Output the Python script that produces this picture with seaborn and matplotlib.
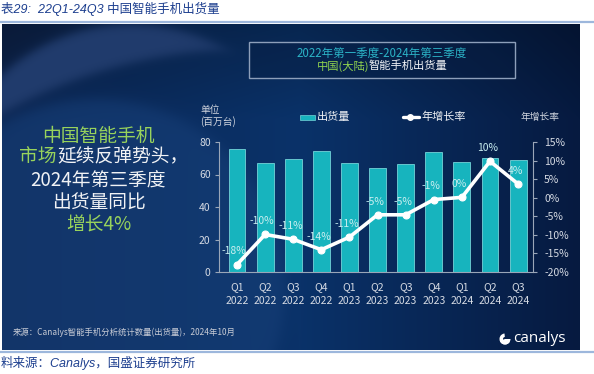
import numpy as np
import matplotlib
matplotlib.use("Agg")
import matplotlib.pyplot as plt
import seaborn as sns
import pandas as pd
from matplotlib.patches import Rectangle, Wedge
from matplotlib.lines import Line2D

# ---------------- data ----------------
quarters = ["Q1\n2022", "Q2\n2022", "Q3\n2022", "Q4\n2022", "Q1\n2023", "Q2\n2023",
            "Q3\n2023", "Q4\n2023", "Q1\n2024", "Q2\n2024", "Q3\n2024"]
shipments = [75.5, 67.3, 69.6, 74.7, 67.3, 64.3, 66.7, 73.7, 68.0, 70.4, 69.0]
growth = [-18.0, -9.9, -11.2, -14.0, -10.6, -4.6, -4.6, -0.5, 0.1, 9.8, 3.7]
growth_labels = ["-18%", "-10%", "-11%", "-14%", "-11%", "-5%", "-5%", "-1%", "0%", "10%", "4%"]
left_ticks = [0, 20, 40, 60, 80]
right_ticks = [-20, -15, -10, -5, 0, 5, 10, 15]

sns.set_theme(style="white")
plt.rcParams["font.family"] = ["Noto Sans CJK SC", "DejaVu Sans"]

W, H = 594, 374
fig = plt.figure(figsize=(W / 100, H / 100), dpi=100)
fig.patch.set_facecolor("white")


def fx(x):
    return x / W


def fy(y):
    return 1 - y / H


# ---------------- slide background ----------------
sx0, sy0, sx1, sy1 = 2, 24, 580, 350
xs = np.arange(sx0, sx1) + 0.5
ys = np.arange(sy0, sy1) + 0.5
X, Y = np.meshgrid(xs, ys)


def hexrgb(h):
    h = h.lstrip("#")
    return np.array([int(h[i:i + 2], 16) / 255 for i in (0, 2, 4)])


def smooth(d, w=3.0):
    return 1 / (1 + np.exp(-d / w))


c_mid = hexrgb("#0a3269")
c_right = hexrgb("#061a40")
c_left = hexrgb("#0b2653")
t = np.clip((X - 300) / 280, 0, 1)[..., None]
tl = np.clip((300 - X) / 300, 0, 1)[..., None]
img = c_mid * (1 - t) + c_right * t
img = img * (1 - tl) + c_left * tl
vt = np.clip((120 - Y) / 100, 0, 1)[..., None]
img = img * (1 - 0.25 * vt)

# lower-left lighter disk
dC = 190 - np.hypot(X - 95, Y - 290)
mC = smooth(dC, 4)[..., None]
img = img * (1 - 0.6 * mC) + hexrgb("#173f78") * 0.6 * mC

# lighter crescent band
dA = 190 - np.hypot(X - 130, Y - 215)
dB = np.hypot(X - 250, Y - 560) - 510
mBand = (smooth(dA, 3) * smooth(dB, 3))[..., None]
img = img * (1 - mBand) + hexrgb("#213c6d") * mBand
mCorner = (smooth(-dA, 3) * np.clip((200 - X) / 200, 0, 1) * np.clip((160 - Y) / 160, 0, 1))[..., None]
img = img * (1 - 0.6 * mCorner) + hexrgb("#0c1933") * 0.6 * mCorner

bg = fig.add_axes([fx(sx0), fy(sy1), (sx1 - sx0) / W, (sy1 - sy0) / H])
bg.imshow(np.clip(img, 0, 1), aspect="auto", extent=(sx0, sx1, sy1, sy0), interpolation="bilinear")
bg.axis("off")

# ---------------- main chart ----------------
ax = fig.add_axes([fx(219), fy(272), (533 - 219) / W, (272 - 142) / H])
ax.patch.set_alpha(0)
df = pd.DataFrame({"quarter": quarters, "shipments": shipments, "growth": growth})
sns.barplot(data=df, x="quarter", y="shipments", ax=ax, color="#17b4be", saturation=1,
            width=0.6, edgecolor="#74d3d8", linewidth=0.6)
ax.set_ylim(0, 80)
ax.set_yticks(left_ticks)
ax.set_xlabel("")
ax.set_ylabel("")

ax2 = ax.twinx()
ax2.patch.set_alpha(0)
sns.lineplot(x=np.arange(len(growth)), y=growth, ax=ax2, color="white", lw=2.6,
             marker="o", markersize=5, markeredgecolor="white", markeredgewidth=0.8)
ax2.set_ylim(-20, 15)
ax2.set_yticks(right_ticks)
ax2.set_yticklabels([f"{v}%" for v in right_ticks])
ax2.set_ylabel("")
for i, (g, lbl) in enumerate(zip(growth, growth_labels)):
    ax2.annotate(lbl, (i, g), xytext=(-2, 9.5), textcoords="offset points",
                 ha="center", va="center", fontsize=7.5, color="#c9eef0")

ax.set_xlim(-0.64, 10.53)
ax2.set_xlim(-0.64, 10.53)

tick_col = "#d5dae3"
spine_col = "#9aa6b8"
ax.tick_params(axis="y", colors=tick_col, labelsize=7.5, length=3, width=0.8,
               direction="out", left=True, pad=3, color=spine_col)
ax.tick_params(axis="x", colors=tick_col, labelsize=7.5, length=0, pad=7)
ax2.tick_params(axis="y", colors=tick_col, labelsize=7.5, length=3, width=0.8,
                direction="out", right=True, pad=5, color=spine_col)
for lab in ax.get_xticklabels():
    lab.set_linespacing(1.55)

for a in (ax, ax2):
    for s in a.spines.values():
        s.set_visible(False)
ax.spines["left"].set_visible(True)
ax.spines["bottom"].set_visible(True)
ax2.spines["right"].set_visible(True)
for s in (ax.spines["left"], ax.spines["bottom"], ax2.spines["right"]):
    s.set_color(spine_col)
    s.set_linewidth(0.8)

# ---------------- slide texts ----------------
fig.add_artist(Rectangle((fx(249), fy(78)), (515 - 249) / W, (78 - 42) / H,
                         transform=fig.transFigure, facecolor="#061c40", alpha=0.35,
                         edgecolor="none"))
fig.add_artist(Rectangle((fx(249), fy(78)), (515 - 249) / W, (78 - 42) / H,
                         transform=fig.transFigure, fill=False, edgecolor="#8d9fba", lw=1))
fig.text(fx(382), fy(53), "2022年第一季度-2024年第三季度", ha="center", va="center",
         fontsize=8.3, color="#2bb2c6")
fig.text(fx(369), fy(66), "中国(大陆)", ha="right", va="center", fontsize=8.1, color="#8fd14f")
fig.text(fx(369), fy(66), "智能手机出货量", ha="left", va="center", fontsize=8.1, color="#f2f4f7")

fig.text(fx(200), fy(110), "单位", ha="left", va="center", fontsize=7, color="#d0d5de")
fig.text(fx(200), fy(122), "(百万台)", ha="left", va="center", fontsize=7, color="#d0d5de")
fig.add_artist(Rectangle((fx(300), fy(120)), 15 / W, 5 / H, transform=fig.transFigure,
                         facecolor="#17b4be", edgecolor="#74d3d8", lw=0.5))
fig.text(fx(317), fy(117), "出货量", ha="left", va="center", fontsize=8, color="#f0f2f5")
fig.add_artist(Line2D([fx(403), fx(419)], [fy(117), fy(117)], transform=fig.transFigure,
                      color="white", lw=2.4))
fig.add_artist(Line2D([fx(410)], [fy(117)], transform=fig.transFigure, color="white",
                      marker="o", markersize=4))
fig.text(fx(421), fy(117), "年增长率", ha="left", va="center", fontsize=8, color="#f0f2f5")
fig.text(fx(540), fy(117), "年增长率", ha="center", va="center", fontsize=7, color="#d0d5de")

green = "#98d35c"
white = "#f0f2f5"
hs = 13.5
fig.text(fx(98), fy(136), "中国智能手机", ha="center", va="center", fontsize=hs, color=green)
fig.text(fx(57), fy(157), "市场", ha="right", va="center", fontsize=hs, color=green)
fig.text(fx(57), fy(157), "延续反弹势头，", ha="left", va="center", fontsize=hs, color=white)
fig.text(fx(98), fy(181), "2024年第三季度", ha="center", va="center", fontsize=hs, color=white)
fig.text(fx(99), fy(203), "出货量同比", ha="center", va="center", fontsize=hs, color=white)
fig.text(fx(99), fy(225), "增长4%", ha="center", va="center", fontsize=hs, color=green)

fig.text(fx(13), fy(332), "来源：Canalys智能手机分析统计数量(出货量)，2024年10月", ha="left",
         va="center", fontsize=6, color="#c8ccd6")
fig.text(fx(513), fy(338), "canalys", ha="left", va="center", fontsize=11,
         family=["Open Sans", "DejaVu Sans"], color="white")
fig.add_artist(Wedge((505 / 100, (H - 339) / 100), 0.055, 95, 330, width=0.035,
                     transform=fig.dpi_scale_trans, facecolor="white", edgecolor="none"))
fig.add_artist(Wedge((505 / 100, (H - 339) / 100), 0.055, 200, 360,
                     transform=fig.dpi_scale_trans, facecolor="white", edgecolor="none"))

# ---------------- report frame ----------------
fig.add_artist(Line2D([0, 1], [fy(21.5), fy(21.5)], transform=fig.transFigure,
                      color="#9db7dc", lw=1.6))
fig.add_artist(Line2D([0, 1], [fy(352), fy(352)], transform=fig.transFigure,
                      color="#9db7dc", lw=1.6))
fig.text(fx(1), fy(9), "表29:  22Q1-24Q3 中国智能手机出货量", ha="left", va="center",
         fontsize=9, style="italic", color="#1d3f8f",
         family=["Liberation Sans", "Noto Sans CJK SC"])
fig.text(fx(1), fy(363), "料来源：Canalys，国盛证券研究所", ha="left", va="center",
         fontsize=9, style="italic", color="#1d3f8f",
         family=["Liberation Sans", "Noto Sans CJK SC"])

fig.savefig("out.png", dpi=100, facecolor="white")
